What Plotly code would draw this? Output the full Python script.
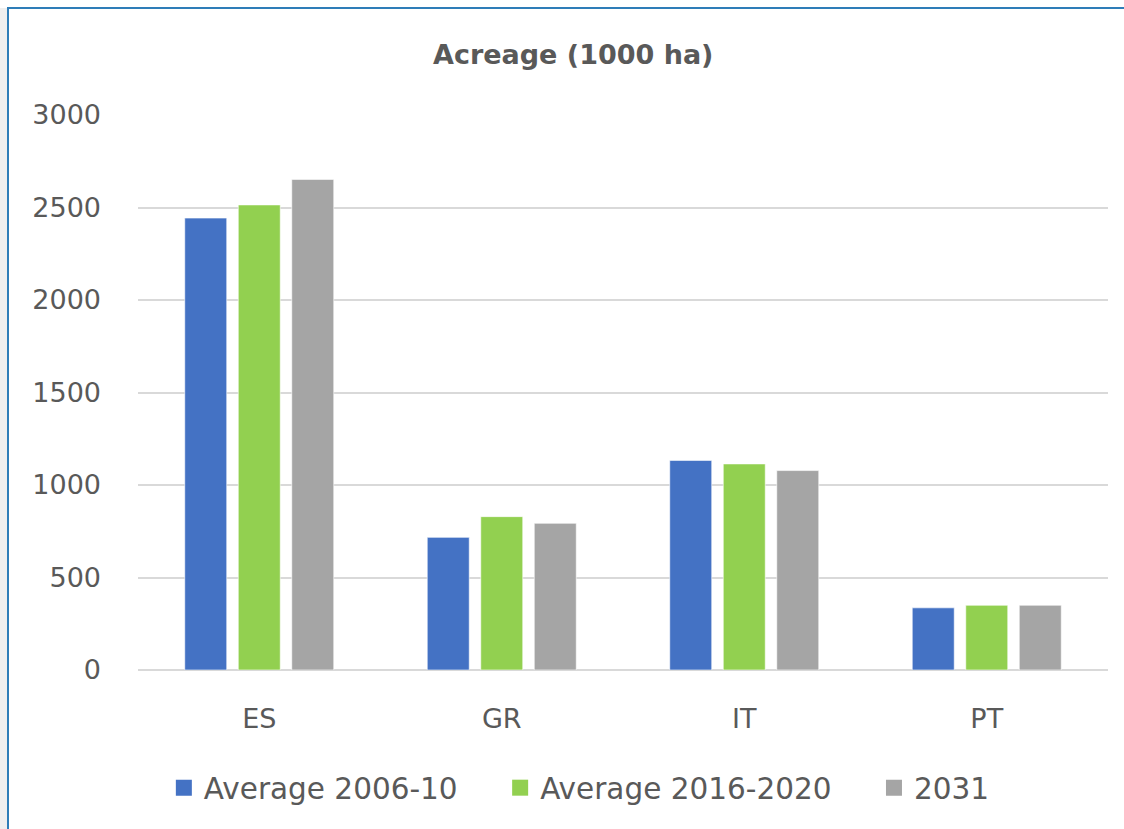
import plotly.graph_objects as go

categories = ["ES", "GR", "IT", "PT"]
series_names = ["Average 2006-10", "Average 2016-2020", "2031"]
avg_2006_10 = [2443, 717, 1133, 336]
avg_2016_2020 = [2514, 829, 1114, 350]
proj_2031 = [2652, 793, 1078, 350]
colors = ["#4472C4", "#92D050", "#A5A5A5"]
y_ticks = [0, 500, 1000, 1500, 2000, 2500, 3000]

FONT = "DejaVu Sans"
TXT = "#595959"

fig = go.Figure()
for name, vals, col in zip(series_names, [avg_2006_10, avg_2016_2020, proj_2031], colors):
    fig.add_trace(go.Bar(
        x=categories, y=vals, name=name, showlegend=False,
        marker=dict(color=col, line=dict(color="rgba(255,255,255,0.6)", width=1)),
    ))
# legend proxies with larger square swatches
pad = "\u00a0" * 4
for i, (name, col) in enumerate(zip(series_names, colors)):
    fig.add_trace(go.Scatter(
        x=[None], y=[None], mode="markers",
        name=name + (pad if i < len(series_names) - 1 else ""),
        marker=dict(symbol="square", size=17, color=col),
    ))

L, R, T, B = 138, 16, 115, 159
W, H = 1124, 829
pw, ph = W - L - R, H - T - B

def px(x):
    return (x - L) / pw

def py(y):
    return (H - B - y) / ph

fig.update_layout(
    width=W, height=H,
    margin=dict(l=L, r=R, t=T, b=B, pad=0),
    paper_bgcolor="white", plot_bgcolor="rgba(0,0,0,0)",
    barmode="group", bargap=0.338, bargroupgap=0.215,
    font=dict(family=FONT, color=TXT, size=27),
    title=dict(text="<b>Acreage (1000 ha)</b>", x=0.51, xanchor="center",
               y=1 - 55 / H, yanchor="middle",
               font=dict(family=FONT, size=27, color=TXT)),
    xaxis=dict(showgrid=False, showline=False, ticks="", ticklabelstandoff=30,
               tickfont=dict(size=27, color=TXT)),
    yaxis=dict(range=[0, 3000], tickvals=y_ticks, showgrid=True,
               gridcolor="#D9D9D9", gridwidth=2, zeroline=True,
               zerolinecolor="#D9D9D9", zerolinewidth=2, ticks="",
               ticklabelstandoff=36, tickfont=dict(size=27, color=TXT)),
    legend=dict(orientation="h", x=0.455, xanchor="center", y=py(788), yanchor="middle",
                font=dict(size=29.5, color=TXT), itemwidth=30, traceorder="normal"),
    shapes=[
        dict(type="rect", xref="paper", yref="paper", layer="below",
             x0=px(-5), x1=px(8), y0=py(900), y1=py(8),
             fillcolor="#EFEFEF", line=dict(width=0)),
        dict(type="rect", xref="paper", yref="paper", layer="below",
             x0=px(8), x1=px(1140), y0=py(900), y1=py(8),
             fillcolor="white", line=dict(color="#2E7DB8", width=2)),
    ],
)

fig.write_html("out.html")
